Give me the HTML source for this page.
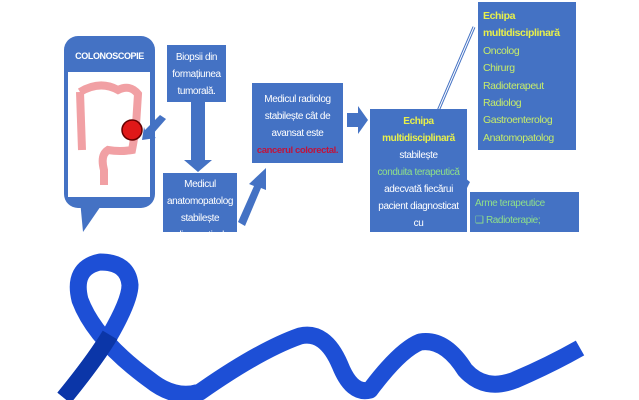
<!DOCTYPE html>
<html><head><meta charset="utf-8"><style>
body{margin:0;width:639px;height:400px;background:#fff;position:relative;overflow:hidden;font-family:"Liberation Sans",sans-serif;}
.b{position:absolute;background:#4472c4;color:#fff;font-size:10px;line-height:17px;text-align:center;box-sizing:border-box;overflow:hidden;font-family:"Liberation Sans",sans-serif;letter-spacing:-0.4px;white-space:nowrap}
.y{color:#e8f04a;font-weight:bold}
.g{color:#8fe08a}
.l{color:#c6ec6a}
</style></head><body>
<svg width="639" height="400" style="position:absolute;left:0;top:0">
<rect x="64" y="36" width="91" height="172" rx="14" fill="#4472c4"/>
<polygon points="80,200 105,200 83,232" fill="#4472c4"/>
<rect x="68" y="72" width="82" height="125" fill="#fff"/>
<path d="M80,92 Q100,80 118,90 Q130,84 138,94 L136,125 Q134,140 132,150 Q120,152 108,150 Q100,155 104,170 L104,185" stroke="#f1a0a4" stroke-width="8" fill="none"/>
<path d="M80,92 L82,150" stroke="#f1a0a4" stroke-width="8" fill="none"/>
<circle cx="132" cy="130" r="10" fill="#e01818" stroke="#600" stroke-width="1.5"/>
<polygon points="145,130 160,115 166,119 152,135 156,138 142,140 144,127" fill="#4472c4"/>
<polygon points="191,102 205,102 205,160 212,160 198,172 184,160 191,160" fill="#4472c4"/>
<polygon points="238,222 254,186 249,184 266,168 266,190 261,188 245,226" fill="#4472c4"/>
<polygon points="347,113 358,113 358,106 368,120 358,134 358,127 347,127" fill="#4472c4"/>
<line x1="435" y1="118" x2="474" y2="27" stroke="#4472c4" stroke-width="3"/>
<line x1="435" y1="118" x2="474" y2="27" stroke="#fff" stroke-width="1"/>
<polygon points="465,178 470,182 467,188 462,183" fill="#4472c4"/>
<g fill="none" stroke="#1d4fd6" stroke-linecap="butt" stroke-linejoin="round">
<path d="M64,398 Q95,360 110,335 Q130,300 130,285 Q128,262 100,262 Q72,268 80,300 Q95,340 150,380 Q175,400 200,392 Q260,350 300,336 Q325,330 340,365 Q352,395 370,390 Q400,350 420,342 Q445,338 465,370 Q485,392 515,380 Q550,365 580,348" stroke-width="17"/>
<path d="M64,398 Q95,360 110,335" stroke="#0b36a8" stroke-width="17"/>
</g>
</svg>
<div class="b" style="left:167px;top:45px;width:59px;height:57px;padding-top:4px">Biopsii din<br>formațiunea<br>tumorală.</div>
<div class="b" style="left:66px;top:49px;width:87px;height:14px;line-height:14px;font-weight:bold;font-size:9px;background:none">COLONOSCOPIE</div>
<div class="b" style="left:163px;top:173px;width:74px;height:59px;padding-top:3px">Medicul<br>anatomopatolog<br>stabilește<br>diagnosticul</div>
<div class="b" style="left:252px;top:83px;width:91px;height:80px;padding-top:8px">Medicul radiolog<br>stabilește cât de<br>avansat este<br><span style="color:#c0143c;font-weight:bold;font-size:9.5px">cancerul colorectal.</span></div>
<div class="b" style="left:370px;top:109px;width:97px;height:123px;padding-top:4px"><span class="y">Echipa<br>multidisciplinară</span><br>stabilește<br><span class="g">conduita terapeutică</span><br>adecvată fiecărui<br>pacient diagnosticat<br>cu</div>
<div class="b" style="left:478px;top:2px;width:98px;height:148px;padding:6px 0 0 5px;text-align:left;line-height:17.4px;font-size:10.5px"><span class="y">Echipa<br>multidisciplinară</span><br><span class="l">Oncolog<br>Chirurg<br>Radioterapeut<br>Radiolog<br>Gastroenterolog<br>Anatomopatolog</span></div>
<div class="b" style="left:470px;top:192px;width:109px;height:40px;padding:3px 0 0 5px;text-align:left;line-height:17px"><span class="g">Arme terapeutice<br>❑ Radioterapie;</span></div>
</body></html>
